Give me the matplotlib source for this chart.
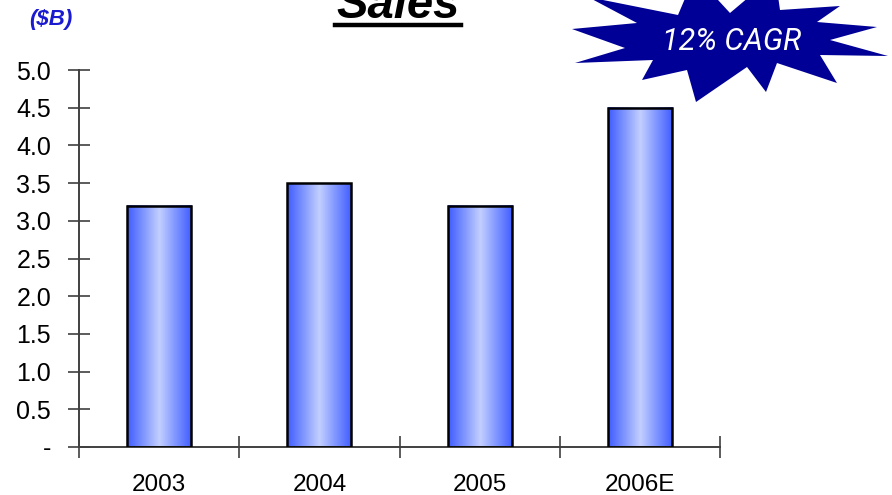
import numpy as np
import matplotlib
matplotlib.use("Agg")
import matplotlib.pyplot as plt
from matplotlib.patches import Polygon, Rectangle
from matplotlib.lines import Line2D
from matplotlib.colors import LinearSegmentedColormap

categories = ["2003", "2004", "2005", "2006E"]
sales = [3.2, 3.5, 3.2, 4.5]
yticks = [0, 0.5, 1.0, 1.5, 2.0, 2.5, 3.0, 3.5, 4.0, 4.5, 5.0]
ytick_labels = ["-", "0.5", "1.0", "1.5", "2.0", "2.5", "3.0", "3.5", "4.0", "4.5", "5.0"]
title = "Sales"
unit_label = "($B)"
badge_text = "12% CAGR"

W, H = 892, 495
plt.rcParams['font.family'] = ['Liberation Sans', 'DejaVu Sans']
fig = plt.figure(figsize=(W / 100, H / 100), dpi=100)
ax = fig.add_axes([79 / W, 1 - 447 / H, (720 - 79) / W, (447 - 70) / H])

x = np.arange(len(categories))
bw = 0.4
cmap = LinearSegmentedColormap.from_list("barg", ["#3f5cff", "#7f95ff", "#c3cfff", "#7f95ff", "#3f5cff"])
grad = np.linspace(0, 1, 256)[None, :]
for xi, v in zip(x, sales):
    ax.imshow(grad, cmap=cmap, aspect='auto', extent=[xi - bw / 2, xi + bw / 2, 0, v],
              zorder=2, interpolation='bilinear')
    ax.add_patch(Rectangle((xi - bw / 2, 0), bw, v, fill=False, edgecolor='black',
                           linewidth=1.8, zorder=3))

ax.set_xlim(-0.5, len(categories) - 0.5)
ax.set_ylim(0, 5.0)
ax.set_yticks(yticks)
ax.set_yticklabels(ytick_labels)
ax.set_xticks(x, minor=True)
ax.set_xticklabels(categories, minor=True)
ax.set_xticks(np.arange(len(categories) + 1) - 0.5)
ax.set_xticklabels([])
ax.tick_params(axis='x', which='major', direction='inout', length=16, width=1.2, color='#404040')
ax.tick_params(axis='x', which='minor', length=0, pad=19.5, labelsize=17.5)
ax.tick_params(axis='y', direction='inout', length=16, width=1.2, color='#404040', pad=12,
               labelsize=18)
for s in ['top', 'right']:
    ax.spines[s].set_visible(False)
for s in ['left', 'bottom']:
    ax.spines[s].set_color('#404040')
    ax.spines[s].set_linewidth(1.4)
ax.set_facecolor('none')

# Title with underline
fig.text(398 / W, 1 - 18 / H, title, fontsize=34, fontweight='bold', fontstyle='italic',
         ha='center', va='baseline')
fig.add_artist(Line2D([335 / W, 461 / W], [1 - 25 / H, 1 - 25 / H], color='black',
                      linewidth=3.2, transform=fig.transFigure))

fig.text(51 / W, 1 - 20 / H, unit_label, fontsize=16, fontweight='bold', fontstyle='italic',
         color='#1a1ad0', ha='center', va='center')

# Starburst badge
star = [(588, -3), (678, 15), (695, -25), (730, 13), (775, -25), (780, 10), (840, 6),
        (817, 22), (877, 27), (830, 40), (888, 56), (820, 55), (837, 83), (777, 63),
        (766, 92), (747, 67), (696, 102), (687, 70), (642, 80), (653, 60), (575, 63),
        (625, 48), (572, 29), (637, 23)]
pts = [(px / W, 1 - py / H) for px, py in star]
fig.add_artist(Polygon(pts, closed=True, facecolor='#000096', edgecolor='none',
                       transform=fig.transFigure, zorder=5))
t = fig.text(732 / W, 1 - 41 / H, badge_text, fontsize=22, fontstyle='italic',
             family=['Roboto', 'DejaVu Sans'], color='white',
             ha='center', va='center', zorder=6)

fig.savefig("out.png", dpi=100)
